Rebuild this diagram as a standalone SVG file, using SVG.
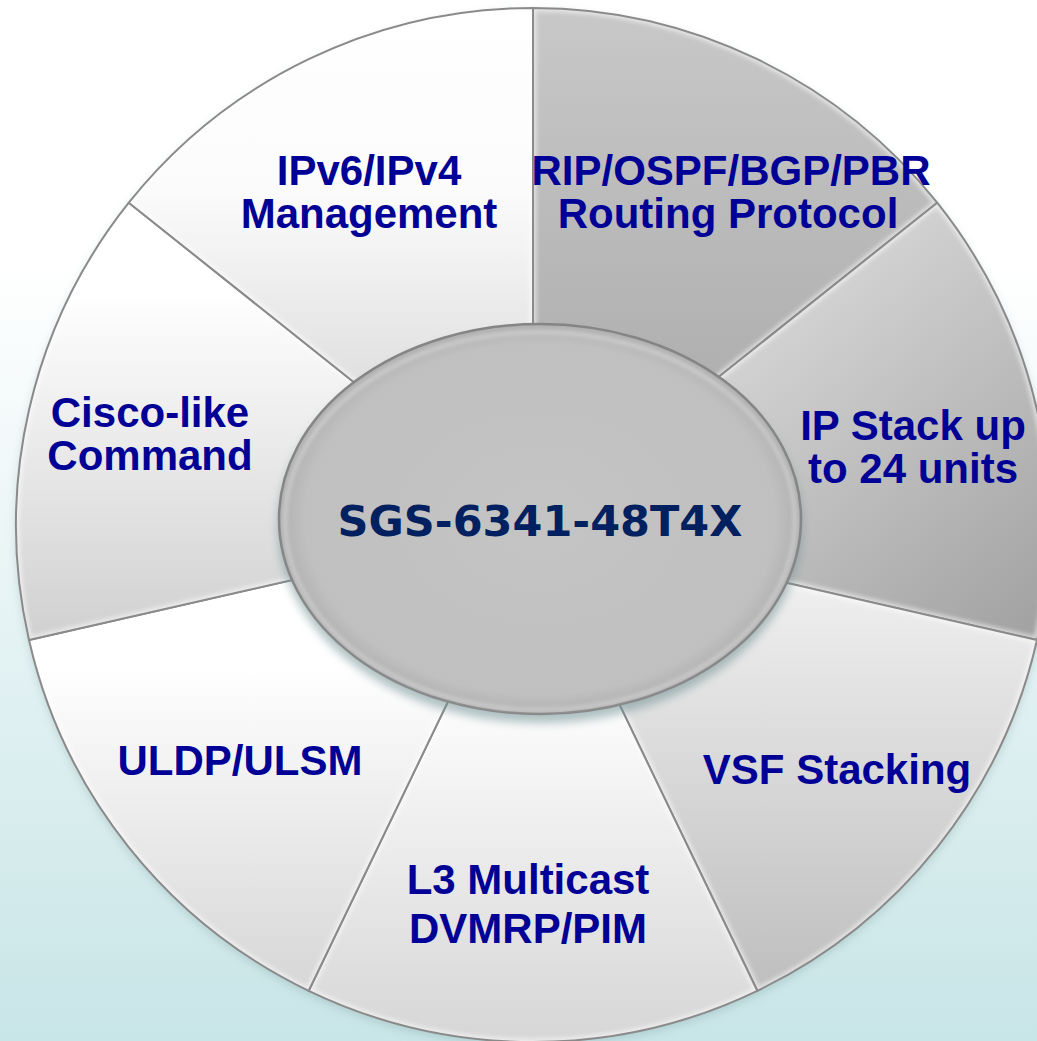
<svg xmlns="http://www.w3.org/2000/svg" xmlns:xlink="http://www.w3.org/1999/xlink" width="1037" height="1041" viewBox="0 0 1037 1041">
<style>
.lbl{font-family:"Liberation Sans",Arial,sans-serif;font-weight:bold;font-size:42px;fill:#000096;text-anchor:middle}
.ctr{font-family:"DejaVu Sans",Verdana,sans-serif;font-weight:bold;font-size:43px;fill:#002060;text-anchor:middle}
.edge{fill:none;stroke:#8a8a8a;stroke-width:2;stroke-linejoin:round}
.hl{fill:none;stroke:#ffffff;stroke-width:7;stroke-opacity:0.55;stroke-linejoin:round}
</style>
<defs>
<linearGradient id="bg" x1="0" y1="0" x2="0" y2="1">
<stop offset="0" stop-color="#ffffff"/>
<stop offset="0.25" stop-color="#ffffff"/>
<stop offset="1" stop-color="#c8e5e7"/>
</linearGradient>
<linearGradient id="g0" x1="0" y1="0" x2="0" y2="1"><stop offset="0" stop-color="#c8c8c8"/><stop offset="1" stop-color="#a6a6a6"/></linearGradient>
<linearGradient id="g1" x1="0" y1="0" x2="1" y2="1"><stop offset="0" stop-color="#f0f0f0"/><stop offset="1" stop-color="#a0a0a0"/></linearGradient>
<linearGradient id="g2" x1="0" y1="0" x2="0" y2="1"><stop offset="0" stop-color="#f6f6f6"/><stop offset="1" stop-color="#bebebe"/></linearGradient>
<linearGradient id="g3" x1="0" y1="0" x2="0" y2="1"><stop offset="0" stop-color="#ffffff"/><stop offset="0.3" stop-color="#ffffff"/><stop offset="1" stop-color="#d6d6d6"/></linearGradient>
<linearGradient id="g4" x1="0" y1="0" x2="0" y2="1"><stop offset="0" stop-color="#ffffff"/><stop offset="0.3" stop-color="#ffffff"/><stop offset="1" stop-color="#d6d6d6"/></linearGradient>
<linearGradient id="g5" x1="0" y1="0" x2="0" y2="1"><stop offset="0" stop-color="#ffffff"/><stop offset="0.2" stop-color="#ffffff"/><stop offset="1" stop-color="#d0d0d0"/></linearGradient>
<linearGradient id="g6" x1="0" y1="0" x2="0" y2="1"><stop offset="0" stop-color="#ffffff"/><stop offset="0.35" stop-color="#fbfbfb"/><stop offset="1" stop-color="#cccccc"/></linearGradient>
<path id="p0" d="M533 525 L533 8 A517 517 0 0 1 937.2 202.7 Z"/>
<path id="p1" d="M533 525 L937.2 202.7 A517 517 0 0 1 1037 640 Z"/>
<path id="p2" d="M533 525 L1037 640 A517 517 0 0 1 757.3 990.8 Z"/>
<path id="p3" d="M533 525 L757.3 990.8 A517 517 0 0 1 308.7 990.8 Z"/>
<path id="p4" d="M533 525 L308.7 990.8 A517 517 0 0 1 29 640 Z"/>
<path id="p5" d="M533 525 L29 640 A517 517 0 0 1 128.8 202.7 Z"/>
<path id="p6" d="M533 525 L128.8 202.7 A517 517 0 0 1 533 8 Z"/>
<clipPath id="c0"><use xlink:href="#p0"/></clipPath>
<clipPath id="c1"><use xlink:href="#p1"/></clipPath>
<clipPath id="c2"><use xlink:href="#p2"/></clipPath>
<clipPath id="c3"><use xlink:href="#p3"/></clipPath>
<clipPath id="c4"><use xlink:href="#p4"/></clipPath>
<clipPath id="c5"><use xlink:href="#p5"/></clipPath>
<clipPath id="c6"><use xlink:href="#p6"/></clipPath>
<filter id="blur3" x="-20%" y="-20%" width="140%" height="140%"><feGaussianBlur stdDeviation="2"/></filter>
<filter id="shadow" x="-20%" y="-20%" width="140%" height="140%"><feGaussianBlur stdDeviation="5"/></filter>
<radialGradient id="eg" cx="0.5" cy="0.5" r="0.5">
<stop offset="0" stop-color="#c4c4c4"/>
<stop offset="0.9" stop-color="#c0c0c0"/>
<stop offset="1" stop-color="#b0b0b0"/>
</radialGradient>
</defs>
<rect x="0" y="0" width="1037" height="1041" fill="url(#bg)"/>
<circle cx="533" cy="529" r="517" fill="#7f9c9e" opacity="0.35" filter="url(#shadow)"/>
<g id="node-rip">
<use xlink:href="#p0" fill="url(#g0)"/>
<use xlink:href="#p0" class="hl" clip-path="url(#c0)" filter="url(#blur3)"/>
<use xlink:href="#p0" class="edge"/>
<text class="lbl" x="731" y="185">RIP/OSPF/BGP/PBR</text>
<text class="lbl" x="728" y="228">Routing Protocol</text>
</g>
<g id="node-ipstack">
<use xlink:href="#p1" fill="url(#g1)"/>
<use xlink:href="#p1" class="hl" clip-path="url(#c1)" filter="url(#blur3)"/>
<use xlink:href="#p1" class="edge"/>
<text class="lbl" x="913" y="440">IP Stack up</text>
<text class="lbl" x="913" y="483">to 24 units</text>
</g>
<g id="node-vsf">
<use xlink:href="#p2" fill="url(#g2)"/>
<use xlink:href="#p2" class="hl" clip-path="url(#c2)" filter="url(#blur3)"/>
<use xlink:href="#p2" class="edge"/>
<text class="lbl" x="837" y="784">VSF Stacking</text>
</g>
<g id="node-l3">
<use xlink:href="#p3" fill="url(#g3)"/>
<use xlink:href="#p3" class="hl" clip-path="url(#c3)" filter="url(#blur3)"/>
<use xlink:href="#p3" class="edge"/>
<text class="lbl" x="528" y="894">L3 Multicast</text>
<text class="lbl" x="528" y="943">DVMRP/PIM</text>
</g>
<g id="node-uldp">
<use xlink:href="#p4" fill="url(#g4)"/>
<use xlink:href="#p4" class="hl" clip-path="url(#c4)" filter="url(#blur3)"/>
<use xlink:href="#p4" class="edge"/>
<text class="lbl" x="240" y="775">ULDP/ULSM</text>
</g>
<g id="node-cisco">
<use xlink:href="#p5" fill="url(#g5)"/>
<use xlink:href="#p5" class="hl" clip-path="url(#c5)" filter="url(#blur3)"/>
<use xlink:href="#p5" class="edge"/>
<text class="lbl" x="150" y="427">Cisco-like</text>
<text class="lbl" x="150" y="470">Command</text>
</g>
<g id="node-ipv6">
<use xlink:href="#p6" fill="url(#g6)"/>
<use xlink:href="#p6" class="hl" clip-path="url(#c6)" filter="url(#blur3)"/>
<use xlink:href="#p6" class="edge"/>
<text class="lbl" x="369" y="185">IPv6/IPv4</text>
<text class="lbl" x="369" y="228">Management</text>
</g>
<g id="node-center">
<ellipse cx="540" cy="527" rx="262" ry="196" fill="#6f8f92" opacity="0.55" filter="url(#shadow)"/>
<ellipse cx="540" cy="519" rx="261" ry="195" fill="url(#eg)" stroke="#858585" stroke-width="2.5"/>
<ellipse cx="540" cy="521" rx="255" ry="189" fill="none" stroke="#ffffff" stroke-opacity="0.6" stroke-width="2" filter="url(#blur3)"/>
<text class="ctr" x="540" y="536">SGS-6341-48T4X</text>
</g>
</svg>
